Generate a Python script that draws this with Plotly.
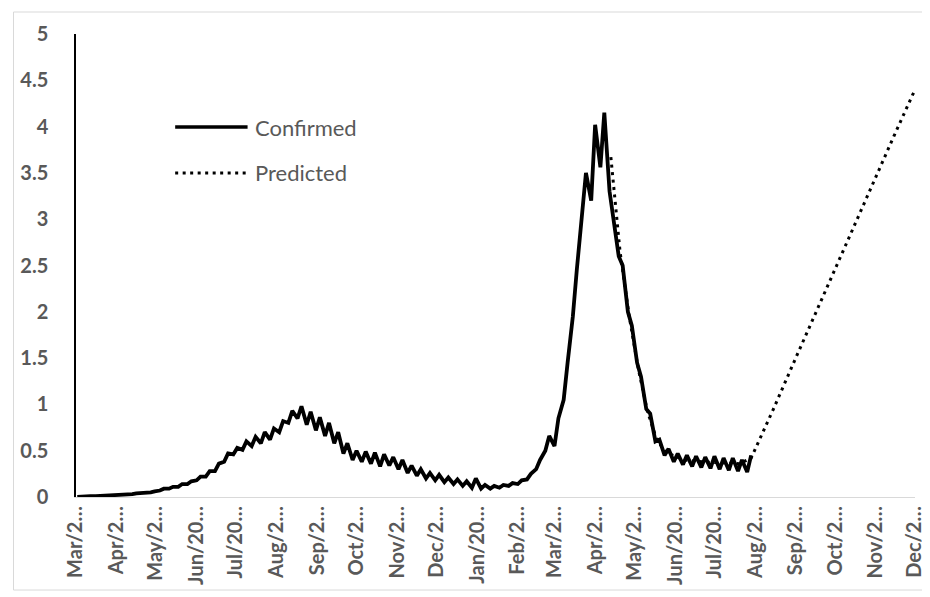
import pandas as pd
import plotly.graph_objects as go

# ---------------- data ----------------
# Confirmed: weekly low (Monday) and high (Thursday) values, weeks starting 2020-03-02
confirmed_week_start = "2020-03-02"
confirmed_low = [0.0, 0.005, 0.01, 0.012, 0.015, 0.025, 0.03, 0.04, 0.05, 0.07,
                 0.09, 0.11, 0.14, 0.18, 0.22, 0.28, 0.38, 0.46, 0.51, 0.55,
                 0.58, 0.62, 0.7, 0.8, 0.85, 0.78, 0.72, 0.66, 0.58, 0.47,
                 0.4, 0.38, 0.36, 0.33, 0.34, 0.3, 0.26, 0.23, 0.2, 0.18,
                 0.16, 0.14, 0.12, 0.1, 0.09, 0.09, 0.1, 0.12, 0.14, 0.19,
                 0.3, 0.5, 0.55, 1.05, 1.95, 3.05, 3.2, 3.56, 3.3, 2.6,
                 2.0, 1.45, 0.95, 0.6, 0.45, 0.38, 0.35, 0.33, 0.32, 0.31,
                 0.3, 0.29, 0.28, 0.27]
confirmed_high = [0.005, 0.01, 0.012, 0.015, 0.02, 0.03, 0.04, 0.05, 0.06, 0.09,
                  0.11, 0.14, 0.17, 0.22, 0.28, 0.36, 0.47, 0.53, 0.6, 0.65,
                  0.7, 0.74, 0.82, 0.93, 0.98, 0.92, 0.86, 0.8, 0.7, 0.58,
                  0.5, 0.49, 0.48, 0.46, 0.43, 0.4, 0.34, 0.3, 0.26, 0.24,
                  0.21, 0.19, 0.17, 0.2, 0.13, 0.12, 0.13, 0.15, 0.18, 0.25,
                  0.4, 0.66, 0.85, 1.45, 2.45, 3.5, 4.02, 4.15, 3.0, 2.5,
                  1.85, 1.3, 0.9, 0.62, 0.52, 0.47, 0.45, 0.44, 0.43, 0.44,
                  0.42, 0.42, 0.4, 0.45]

predicted_dates = ["2021-04-13", "2021-04-16", "2021-04-20", "2021-04-27", "2021-05-04",
                   "2021-05-11", "2021-05-18", "2021-05-25", "2021-06-08", "2021-06-22",
                   "2021-07-06", "2021-07-20", "2021-07-29", "2021-08-15", "2021-09-01",
                   "2021-09-15", "2021-10-01", "2021-10-15", "2021-11-01", "2021-11-15",
                   "2021-12-01"]
predicted_values = [3.67, 3.2, 2.65, 1.95, 1.38,
                    0.92, 0.62, 0.48, 0.4, 0.38,
                    0.37, 0.36, 0.42, 0.95, 1.5,
                    1.95, 2.45, 2.9, 3.45, 3.9,
                    4.4]

tick_dates = ["2020-03-01", "2020-04-01", "2020-05-01", "2020-06-01", "2020-07-01",
              "2020-08-01", "2020-09-01", "2020-10-01", "2020-11-01", "2020-12-01",
              "2021-01-01", "2021-02-01", "2021-03-01", "2021-04-01", "2021-05-01",
              "2021-06-01", "2021-07-01", "2021-08-01", "2021-09-01", "2021-10-01",
              "2021-11-01", "2021-12-01"]
tick_labels = ["Mar/2…", "Apr/2…", "May/2…", "Jun/20…", "Jul/20…", "Aug/2…",
               "Sep/2…", "Oct/2…", "Nov/2…", "Dec/2…", "Jan/20…", "Feb/2…",
               "Mar/2…", "Apr/2…", "May/2…", "Jun/20…", "Jul/20…", "Aug/2…",
               "Sep/2…", "Oct/2…", "Nov/2…", "Dec/2…"]

series_names = ["Confirmed", "Predicted"]

# ---------------- build ----------------
mondays = pd.date_range(confirmed_week_start, periods=len(confirmed_low), freq="7D")
conf_x, conf_y = [], []
for d, lo, hi in zip(mondays, confirmed_low, confirmed_high):
    conf_x += [d, d + pd.Timedelta(days=3)]
    conf_y += [lo, hi]

GRAY = "#595959"
FONT = "Lato"
DOT = "3px,4.5px"

fig = go.Figure()
fig.add_trace(go.Scatter(x=conf_x, y=conf_y, mode="lines", name=series_names[0],
                         line=dict(color="black", width=3.8), showlegend=False))
fig.add_trace(go.Scatter(x=pd.to_datetime(predicted_dates), y=predicted_values, mode="lines",
                         name=series_names[1],
                         line=dict(color="black", width=3, dash=DOT),
                         showlegend=False))

# manual legend (inside plot, upper left)
leg_x0, leg_x1, leg_tx = 0.1182, 0.2045, 0.2104
leg_rows = [(0.7991, dict(color="black", width=3.5)),
            (0.6998, dict(color="black", width=3, dash=DOT))]
for (yy, ln), name in zip(leg_rows, series_names):
    fig.add_shape(type="line", xref="paper", yref="paper", x0=leg_x0, x1=leg_x1,
                  y0=yy, y1=yy, line=ln)
    fig.add_annotation(xref="paper", yref="paper", x=leg_tx, y=yy, text=name,
                       showarrow=False, xanchor="left", yanchor="middle",
                       font=dict(family=FONT, size=22, color=GRAY))

# chart border
fig.add_shape(type="rect", xref="paper", yref="paper", x0=-0.0745, x1=1.0118,
              y0=-0.2009, y1=1.0475, line=dict(color="#d9d9d9", width=1), layer="below")

fig.update_layout(
    width=930, height=597,
    margin=dict(l=64, r=20, t=26, b=108),
    paper_bgcolor="white", plot_bgcolor="white",
    font=dict(family=FONT, color=GRAY),
    xaxis=dict(type="date", range=["2020-03-01", "2021-12-01"],
               tickvals=pd.to_datetime(tick_dates), ticktext=tick_labels,
               tickangle=-90, showgrid=False, zeroline=False,
               showline=True, linecolor="#d9d9d9", linewidth=1.2,
               ticks="", ticklabelstandoff=0,
               tickfont=dict(family=FONT, size=20, color=GRAY, weight="bold")),
    yaxis=dict(range=[0, 5], dtick=0.5, tick0=0, showgrid=False, zeroline=False,
               showline=True, linecolor="black", linewidth=1.5,
               ticks="", ticklabelstandoff=22,
               tickfont=dict(family=FONT, size=20, color=GRAY, weight="bold")),
)

fig.write_html("out.html")
